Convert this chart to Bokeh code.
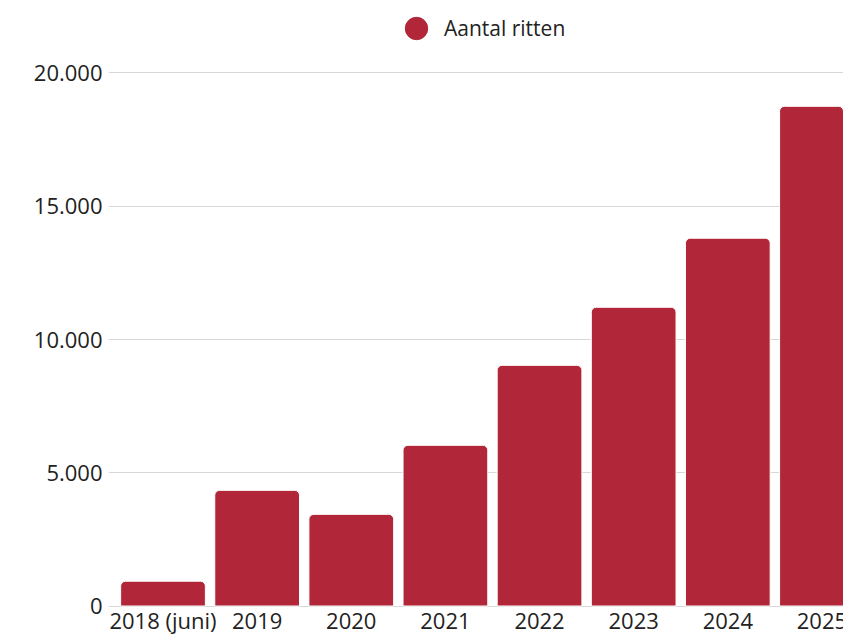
from bokeh.plotting import figure
from bokeh.models import ColumnDataSource, Range1d, FixedTicker, Legend, LegendItem, LabelSet
from bokeh.core.properties import value
from bokeh.embed import file_html
from bokeh.resources import INLINE

years = ["2018 (juni)", "2019", "2020", "2021", "2022", "2023", "2024", "2025"]
rides = [930, 4340, 3440, 6030, 9030, 11210, 13800, 18750]
y_ticks = [0, 5000, 10000, 15000, 20000]
y_tick_labels = ["0", "5.000", "10.000", "15.000", "20.000"]
series_name = "Aantal ritten"

BAR = "#B22639"
FONT = "Open Sans"

pos = list(range(len(years)))
base = [y_ticks[0]] * len(years)
src = ColumnDataSource(dict(x=pos, top=rides, base=base, label=years))

p = figure(width=843, height=634, output_backend="svg", toolbar_location=None,
           x_range=Range1d(-0.579, 7.229), y_range=Range1d(-1069, 22720),
           x_axis_location=None,
           min_border_left=108, min_border_right=0, min_border_top=0, min_border_bottom=0)
p.outline_line_color = None
p.background_fill_color = "white"
p.border_fill_color = "white"

bars = p.vbar(x="x", top="top", bottom="base", width=0.9, source=src, fill_color=BAR,
              line_color="white", line_width=1, border_radius=(5, 5, 0, 0))

# category labels under the bars (x axis labels)
cats = LabelSet(x="x", y="base", text="label", source=src, text_align="center",
                text_baseline="alphabetic", y_offset=-23, text_font=value(FONT),
                text_font_size=value("22px"), text_color="#222222")
p.add_layout(cats)

# renderer used only for the legend marker (size 0 in the plot)
leg_r = p.scatter(x=pos[:1], y=y_ticks[:1], size=0, marker="circle",
                  fill_color=BAR, line_color=BAR)
legend = Legend(items=[LegendItem(label=series_name, renderers=[leg_r])],
                location=(280, 575), glyph_width=56, glyph_height=62, label_standoff=0,
                padding=0, margin=0, spacing=0, border_line_color=None, background_fill_alpha=0,
                label_text_font=FONT, label_text_font_size="21px", label_text_color="#222222")
p.add_layout(legend)

p.xgrid.grid_line_color = None
p.ygrid.grid_line_color = "#D8D8D8"
p.ygrid.grid_line_width = 1
p.ygrid.ticker = FixedTicker(ticks=y_ticks)

p.yaxis.ticker = FixedTicker(ticks=y_ticks)
p.yaxis.major_label_overrides = {t: l for t, l in zip(y_ticks, y_tick_labels)}
p.yaxis.axis_line_color = None
p.yaxis.major_tick_line_color = None
p.yaxis.minor_tick_line_color = None
p.yaxis.major_tick_out = 0
p.yaxis.major_label_standoff = 6
p.yaxis.major_label_text_font = FONT
p.yaxis.major_label_text_font_size = "22px"
p.yaxis.major_label_text_color = "#222222"

open("out.html", "w").write(file_html(p, INLINE))
